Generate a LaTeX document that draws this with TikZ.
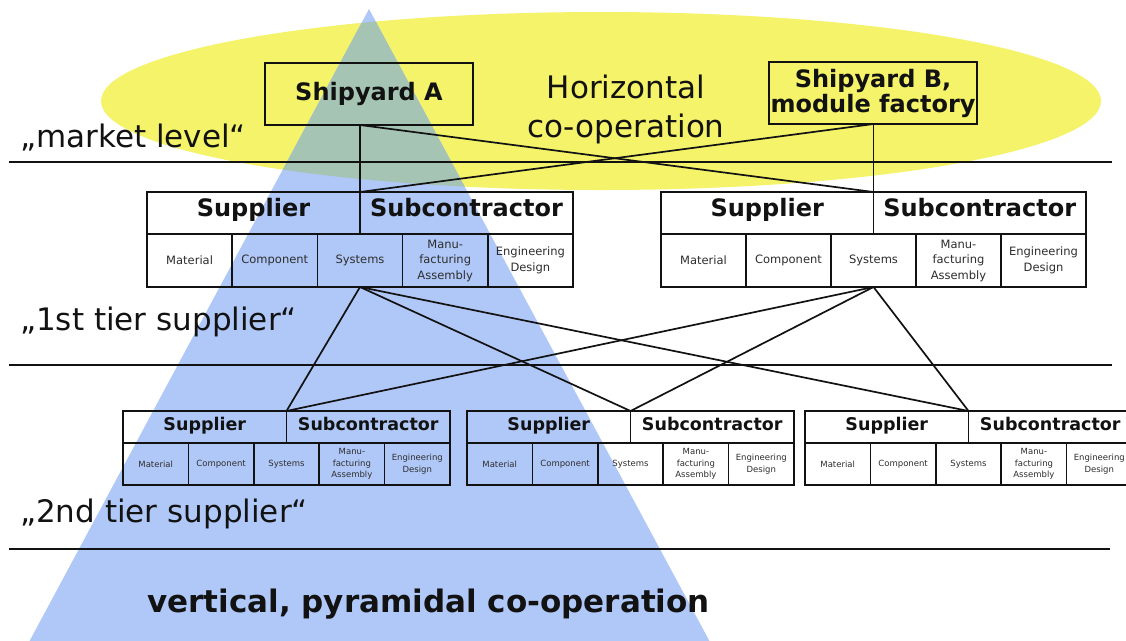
\documentclass[tikz,border=0pt]{standalone}
\usepackage{fontspec}
\setmainfont{DejaVu Sans}
\definecolor{yel}{RGB}{244,243,105}
\definecolor{blu}{RGB}{176,200,248}
\definecolor{ovl}{RGB}{166,196,180}
\definecolor{ink}{RGB}{18,18,18}
\definecolor{cellink}{RGB}{45,45,45}
\newcommand\bigTone{\fontsize{24}{25}\selectfont\bfseries}
\newcommand\smTone{\fontsize{11.5}{15.5}\selectfont}
\newcommand\bigTtwo{\fontsize{17.5}{19}\selectfont\bfseries}
\newcommand\smTtwo{\fontsize{8.5}{11.5}\selectfont}
% #1 name, #2 left x, #3 top y, #4 cell width, #5 top row h, #6 bottom row h, #7 big font, #8 small font
\newcommand\tierbox[8]{%
  \node[cell, headcell, anchor=north west, minimum width={2.5*#4pt}, minimum height=#5pt, font=#7] (#1sup) at (#2,#3) {Supplier};
  \node[cell, headcell, anchor=north west, minimum width={2.5*#4pt}, minimum height=#5pt, font=#7] (#1sub) at (#1sup.north east) {Subcontractor};
  \node[cell, anchor=north west, minimum width=#4pt, minimum height=#6pt, font=#8, text=cellink] (#1a) at (#1sup.south west) {Material};
  \node[cell, anchor=north west, minimum width=#4pt, minimum height=#6pt, font=#8, text=cellink] (#1b) at (#1a.north east) {Component};
  \node[cell, anchor=north west, minimum width=#4pt, minimum height=#6pt, font=#8, text=cellink] (#1c) at (#1b.north east) {Systems};
  \node[cell, anchor=north west, minimum width=#4pt, minimum height=#6pt, font=#8, text=cellink] (#1d) at (#1c.north east) {Manu-\\facturing\\Assembly};
  \node[cell, anchor=north west, minimum width=#4pt, minimum height=#6pt, font=#8, text=cellink] (#1e) at (#1d.north east) {Engineering\\Design};
}
\tikzset{
  cell/.style={draw=ink, line width=1.5pt, inner sep=1pt, outer sep=0pt, align=center, text=ink},
  headcell/.style={text height=0.75em, text depth=0.02em},
  conn/.style={draw=ink, line width=1.7pt},
  levelrule/.style={draw=ink, line width=1.7pt},
  lbl/.style={anchor=base west, inner sep=0pt, font=\fontsize{31}{33}\selectfont, text=ink},
}
\begin{document}
\begin{tikzpicture}[x=1pt,y=-1pt]
\useasboundingbox (0,0) rectangle (1126,640);
\clip (0,0) rectangle (1126,640);
\fill[white] (0,0) rectangle (1126,640);
% background shapes
\fill[yel] (601,101) ellipse [x radius=500pt, y radius=89pt];
\fill[blu] (369,9) -- (29,642) -- (710,642) -- cycle;
\begin{scope}
  \clip (369,9) -- (29,642) -- (710,642) -- cycle;
  \fill[ovl] (601,101) ellipse [x radius=500pt, y radius=89pt];
\end{scope}
% level rules
\draw[levelrule] (9,162) -- (1112,162);
\draw[levelrule] (9,365) -- (1112,365);
\draw[levelrule] (9,549) -- (1110,549);
% labels
\node[lbl] (mkt) at (20,147) {„market level“};
\node[lbl] (tierone) at (20,330) {„1st tier supplier“};
\node[lbl] (tiertwo) at (20,522) {„2nd tier supplier“};
\node[anchor=base, inner sep=0pt, font=\fontsize{31}{33}\selectfont, text=ink] (hor1) at (626,98) {Horizontal};
\node[anchor=base, inner sep=0pt, font=\fontsize{31}{33}\selectfont, text=ink] (hor2) at (626,137) {co-operation};
\node[anchor=base west, inner sep=0pt, font=\fontsize{31}{33}\selectfont\bfseries, text=ink] (vert) at (147,612) {vertical, pyramidal co-operation};
% shipyards
\node[cell, minimum width=208pt, minimum height=62pt, font=\bigTone] (shipA) at (369,94) {Shipyard A};
\node[cell, minimum width=208pt, minimum height=62pt, font=\bigTone] (shipB) at (873,93) {Shipyard B,\\module factory};
% tiers
\tierbox{L1}{147}{192}{85.2}{42}{53}{\bigTone}{\smTone}
\tierbox{R1}{661}{192}{85}{42}{53}{\bigTone}{\smTone}
\tierbox{A2}{123}{411}{65.4}{32}{42}{\bigTtwo}{\smTtwo}
\tierbox{B2}{467}{411}{65.4}{32}{42}{\bigTtwo}{\smTtwo}
\tierbox{C2}{805}{411}{65.4}{32}{42}{\bigTtwo}{\smTtwo}
% connectors
\coordinate (pA) at (L1sup.north east |- shipA.south);
\coordinate (pB) at (R1sup.north east |- shipB.south);
\draw[conn] (pA) -- (L1sup.north east);
\draw[conn] (pA) -- (R1sup.north east);
\draw[conn] (pB) -- (L1sup.north east);
\draw[conn] (pB) -- (R1sup.north east);
\foreach \s in {L1,R1}{
  \foreach \t in {A2,B2,C2}{
    \draw[conn] (\s c.south) -- (\t sup.north east);
  }
}
\end{tikzpicture}
\end{document}
